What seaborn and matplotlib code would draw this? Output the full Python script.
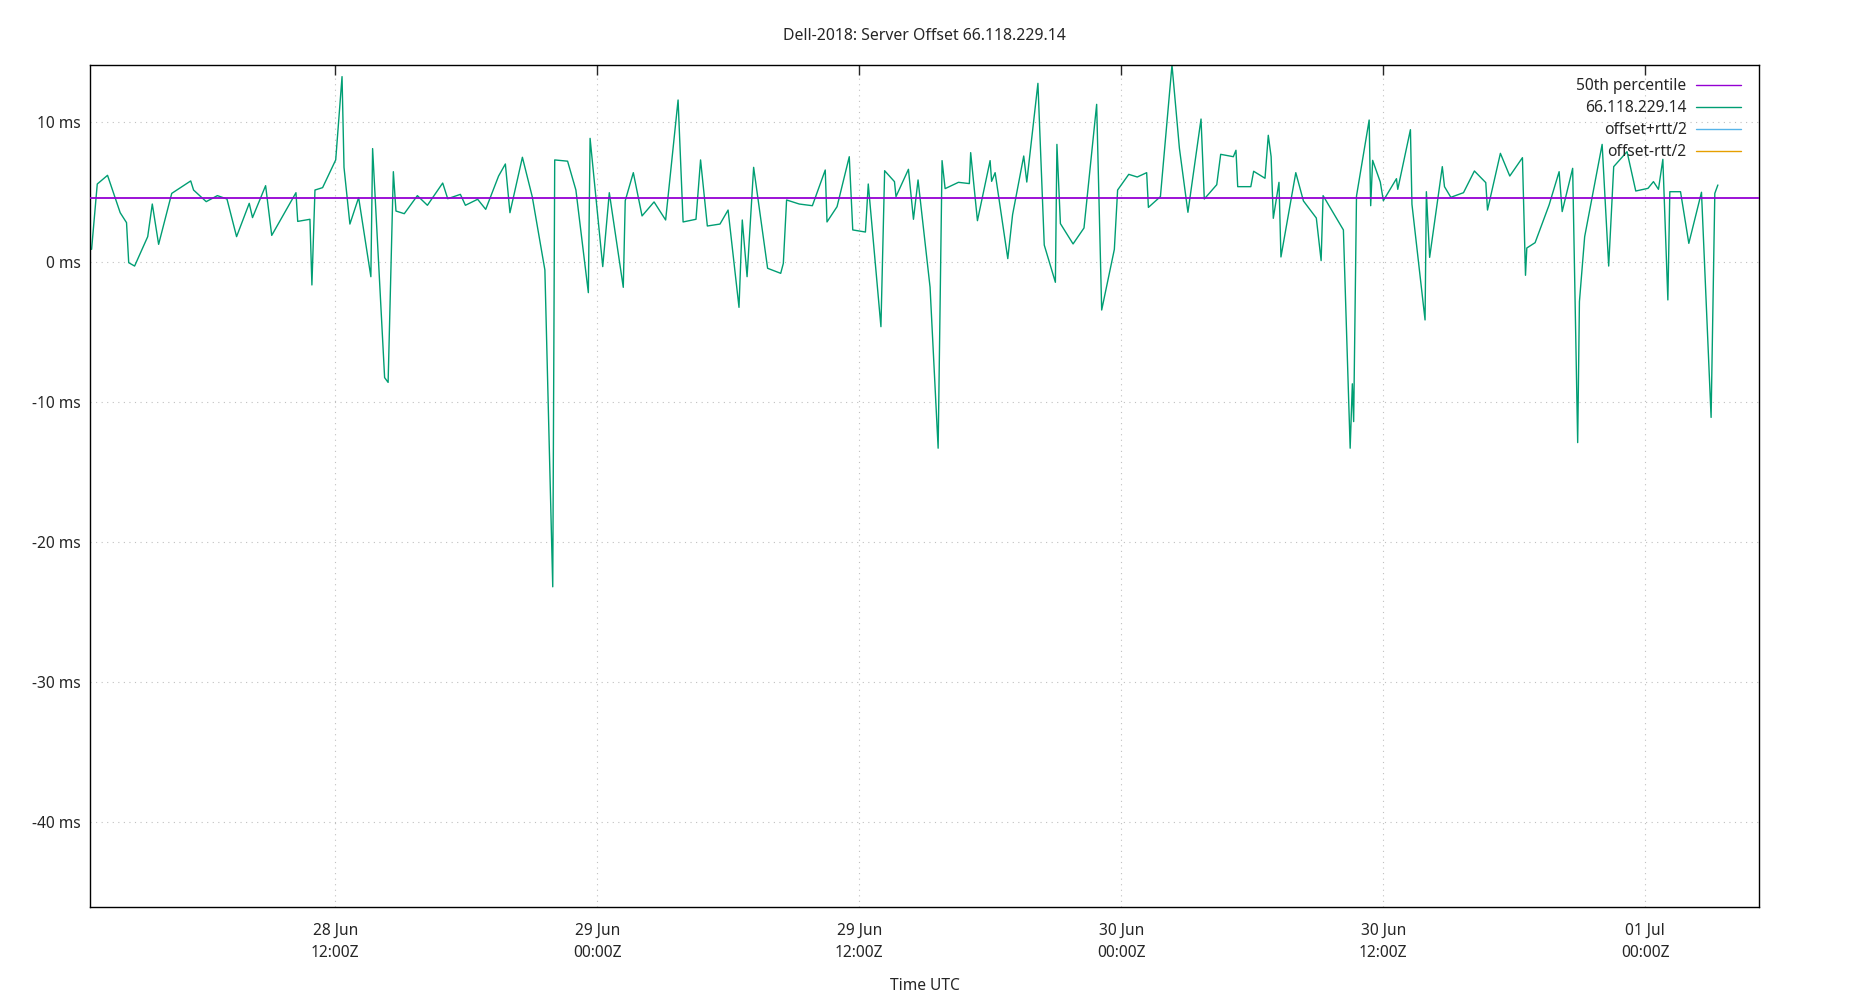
import pandas as pd
import matplotlib
matplotlib.use("Agg")
import matplotlib.pyplot as plt
import matplotlib.dates as mdates
from matplotlib.lines import Line2D
import seaborn as sns

# hours since 28 Jun 00:00Z, and offset in ms
hours = [
    0.84, 1.10, 1.57, 2.15, 2.44, 2.54, 2.81, 3.41, 3.62, 3.91,
    4.51, 5.38, 5.51, 6.09, 6.60, 7.04, 7.48, 8.06, 8.21, 8.81,
    9.09, 10.20, 10.28, 10.84, 10.93, 11.07, 11.42, 12.02, 12.31, 12.40,
    12.67, 13.07, 13.63, 13.71, 14.26, 14.42, 14.66, 14.78, 15.16, 15.76,
    16.22, 16.92, 17.15, 17.73, 17.96, 18.52, 18.89, 19.48, 19.79, 20.00,
    20.57, 21.02, 21.60, 21.96, 22.05, 22.64, 23.02, 23.59, 23.67, 24.25,
    24.55, 25.19, 25.28, 25.65, 26.05, 26.60, 27.13, 27.70, 27.93, 28.52,
    28.73, 29.04, 29.62, 29.99, 30.49, 30.64, 30.86, 31.16, 31.80, 32.40,
    32.52, 32.67, 33.25, 33.85, 34.44, 34.52, 34.98, 35.54, 35.70, 36.28,
    36.41, 36.99, 37.16, 37.61, 37.68, 38.25, 38.48, 38.69, 39.24, 39.61,
    39.79, 39.93, 40.54, 41.04, 41.10, 41.41, 41.99, 42.06, 42.22, 42.80,
    43.02, 43.53, 43.67, 44.18, 44.47, 44.98, 45.05, 45.21, 45.79, 46.29,
    46.87, 47.10, 47.68, 47.83, 48.34, 48.73, 49.16, 49.24, 49.79, 50.32,
    50.66, 51.05, 51.65, 51.80, 52.37, 52.55, 53.13, 53.25, 53.33, 53.93,
    54.06, 54.58, 54.73, 54.86, 54.96, 55.22, 55.31, 55.99, 56.34, 56.93,
    57.15, 57.24, 58.17, 58.48, 58.58, 58.64, 58.77, 59.35, 59.42, 59.51,
    59.86, 60.00, 60.60, 60.66, 61.24, 61.31, 61.91, 61.97, 62.12, 62.70,
    62.80, 63.09, 63.67, 64.17, 64.69, 64.77, 65.36, 65.79, 66.37, 66.51,
    66.57, 66.95, 67.59, 68.05, 68.19, 68.67, 68.90, 68.98, 69.22, 70.02,
    70.32, 70.55, 71.16, 71.56, 72.12, 72.37, 72.60, 72.80, 73.03, 73.12,
    73.61, 73.99, 74.57, 75.01, 75.18, 75.32,
]
offset_ms = [
    0.90, 5.57, 6.19, 3.52, 2.81, -0.05, -0.29, 1.81, 4.14, 1.26,
    4.90, 5.79, 5.14, 4.31, 4.74, 4.50, 1.81, 4.19, 3.17, 5.45,
    1.90, 4.95, 2.90, 3.05, -1.64, 5.14, 5.31, 7.29, 13.24, 6.76,
    2.71, 4.60, -1.05, 8.10, -8.26, -8.60, 6.45, 3.64, 3.45, 4.74,
    4.05, 5.64, 4.52, 4.83, 4.05, 4.48, 3.76, 6.14, 7.00, 3.52,
    7.48, 4.67, -0.57, -23.2, 7.29, 7.20, 5.14, -2.19, 8.83, -0.33,
    4.95, -1.81, 4.38, 6.38, 3.29, 4.29, 3.00, 11.57, 2.86, 3.05,
    7.29, 2.57, 2.71, 3.71, -3.24, 3.00, -1.05, 6.76, -0.45, -0.81,
    -0.10, 4.43, 4.14, 4.02, 6.57, 2.86, 3.95, 7.52, 2.29, 2.14,
    5.57, -4.62, 6.52, 5.74, 4.67, 6.62, 3.05, 5.86, -1.80, -13.3,
    7.24, 5.24, 5.69, 5.60, 7.81, 2.95, 7.24, 5.76, 6.38, 0.24,
    3.38, 7.57, 5.71, 12.76, 1.21, -1.45, 8.40, 2.74, 1.29, 2.43,
    11.26, -3.43, 0.90, 5.14, 6.26, 6.07, 6.38, 3.90, 4.67, 14.07,
    8.12, 3.55, 10.21, 4.50, 5.52, 7.69, 7.52, 7.98, 5.38, 5.38,
    6.48, 5.98, 9.05, 7.52, 3.12, 5.69, 0.36, 6.38, 4.36, 3.14,
    0.10, 4.74, 2.29, -13.3, -8.7, -11.4, 4.71, 10.14, 4.02, 7.26,
    5.71, 4.38, 5.95, 5.19, 9.45, 4.12, -4.14, 5.02, 0.33, 6.81,
    5.38, 4.62, 4.95, 6.50, 5.67, 3.71, 7.76, 6.14, 7.45, -0.95,
    1.00, 1.38, 4.07, 6.45, 3.60, 6.69, -12.9, -2.83, 1.81, 8.40,
    -0.29, 6.81, 7.88, 5.07, 5.26, 5.74, 5.19, 7.33, -2.71, 5.02,
    5.02, 1.33, 4.98, -11.1, 4.90, 5.50,
]
p50_ms = 4.57
yticks_ms = [10, 0, -10, -20, -30, -40]

start = pd.Timestamp("2018-06-28 00:00")
df = pd.DataFrame({
    "time": start + pd.to_timedelta(hours, unit="h"),
    "offset": offset_ms,
})

sns.set_style("white")
plt.rcParams["font.family"] = ["Noto Sans", "DejaVu Sans"]
plt.rcParams["font.size"] = 11.2

fig, ax = plt.subplots(figsize=(18.5, 10), dpi=100)
fig.subplots_adjust(left=0.0488, right=0.951, top=0.935, bottom=0.093)

sns.lineplot(data=df, x="time", y="offset", ax=ax, color="#009e73",
             lw=1.0, estimator=None, sort=False, legend=False, zorder=2)
ax.axhline(p50_ms, color="#9400d3", lw=1.3, zorder=3)

ax.set_xlim(start + pd.Timedelta(hours=0.78), start + pd.Timedelta(hours=77.22))
ax.set_ylim(-46.07, 14.07)

ax.set_yticks(yticks_ms)
ax.set_yticklabels([f"{v} ms" for v in yticks_ms])
ax.xaxis.set_major_locator(mdates.HourLocator(byhour=[0, 12]))
ax.xaxis.set_major_formatter(mdates.DateFormatter("%d %b\n%H:%MZ"))

ax.grid(True, ls=(0, (1, 4)), color="#c0c0c0", lw=0.8)
ax.tick_params(axis="x", direction="in", length=7, width=1, top=True, pad=11.5)
ax.tick_params(axis="y", direction="in", length=7, width=1, right=False, pad=7)
for s in ax.spines.values():
    s.set_color("black")
    s.set_linewidth(1.0)

fig.canvas.draw()
for lab in ax.get_xticklabels():
    lab.set_ha("center")
    lab.set_linespacing(1.5)

ax.set_xlabel("Time UTC", labelpad=12.5)
ax.set_ylabel("")
ax.set_title("Dell-2018: Server Offset 66.118.229.14", pad=18, fontsize=11.4)

handles = [
    Line2D([], [], color="#9400d3", lw=1),
    Line2D([], [], color="#009e73", lw=1),
    Line2D([], [], color="#56b4e9", lw=1),
    Line2D([], [], color="#e69f00", lw=1),
]
labels = ["50th percentile", "66.118.229.14", "offset+rtt/2", "offset-rtt/2"]
ax.legend(handles, labels, loc="upper right", bbox_to_anchor=(0.989, 0.984),
          frameon=False, markerfirst=False, handlelength=2.9,
          handletextpad=0.6, labelspacing=0.38, borderpad=0, borderaxespad=0)

plt.savefig("out.png", dpi=100)
